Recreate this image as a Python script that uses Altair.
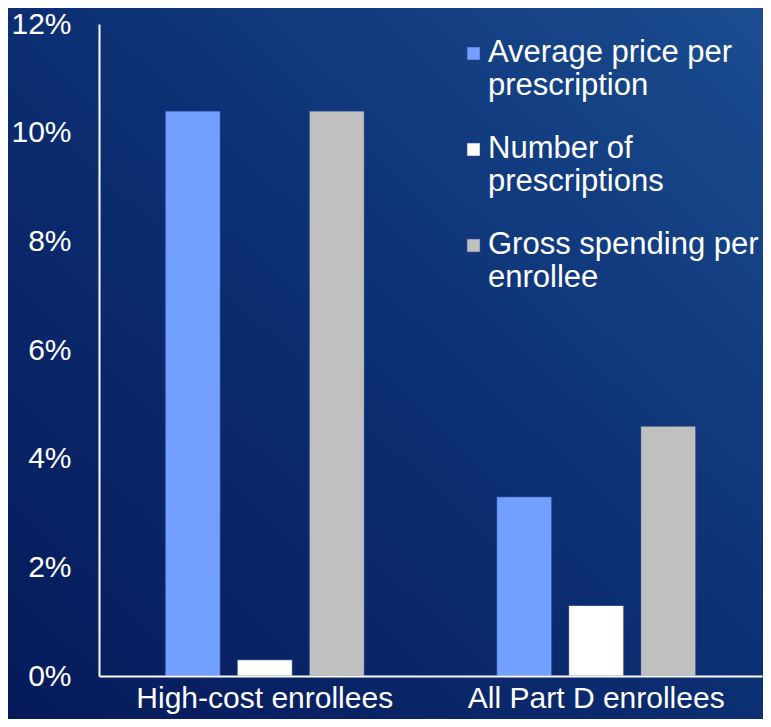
import altair as alt
import pandas as pd

groups = ["High-cost enrollees", "All Part D enrollees"]
series = ["Average price per prescription", "Number of prescriptions", "Gross spending per enrollee"]
legend_lines = [["Average price per", "prescription"], ["Number of", "prescriptions"], ["Gross spending per", "enrollee"]]
avg_price = [0.104, 0.033]
num_rx = [0.003, 0.013]
gross = [0.104, 0.046]
colors = ["#739FFF", "#FFFFFF", "#C0C0C0"]
y_ticks = [0, 0.02, 0.04, 0.06, 0.08, 0.10, 0.12]

rows = []
for i, g in enumerate(groups):
    for s, vals in zip(series, [avg_price, num_rx, gross]):
        rows.append({"group": g, "series": s, "value": vals[i]})
df = pd.DataFrame(rows)

label_expr = ""
for s, lines in zip(series, legend_lines):
    arr = "[" + ",".join("'" + l + "'" for l in lines) + "]"
    label_expr += f"datum.label == '{s}' ? {arr} : "
label_expr += "datum.label"

FONT = "Liberation Sans"
W, H = 663, 652
PAD = {"left": 91, "top": 16, "right": 1, "bottom": 43}

grad = alt.Gradient(
    gradient="linear",
    stops=[alt.GradientStop(color="#061a5a", offset=0),
           alt.GradientStop(color="#0c2e72", offset=0.5),
           alt.GradientStop(color="#1a4d90", offset=1)],
    x1=0, y1=1, x2=1, y2=0,
)

bg = alt.Chart(alt.Data(values=[{"a": 1}])).mark_rect(color=grad).encode(
    x=alt.value(-PAD["left"]), x2=alt.value(W + PAD["right"]),
    y=alt.value(-PAD["top"]), y2=alt.value(H + PAD["bottom"]),
)

bars = alt.Chart(df).mark_bar(stroke="#1c3c84", strokeWidth=1).encode(
    x=alt.X("group:N", sort=groups, scale=alt.Scale(paddingInner=0, paddingOuter=0),
            axis=alt.Axis(title=None, labelAngle=0, labelPadding=7, ticks=False, zindex=1,
                          domainColor="white", domainWidth=2, labelColor="white",
                          labelFontSize=30, labelFont=FONT, labelLimit=400)),
    xOffset=alt.XOffset("series:N", sort=series,
                        scale=alt.Scale(paddingInner=0.233, paddingOuter=0.918)),
    y=alt.Y("value:Q", scale=alt.Scale(domain=[0, 0.12], nice=False),
            axis=alt.Axis(title=None, format="%", values=y_ticks, ticks=False, grid=False, zindex=1,
                          domainColor="white", domainWidth=2, labelColor="white",
                          labelFontSize=30, labelFont=FONT, labelPadding=28)),
    color=alt.Color("series:N", sort=series,
                    scale=alt.Scale(domain=series, range=colors),
                    legend=alt.Legend(title=None, orient="none", legendX=350, legendY=22,
                                      symbolType="M0.29,-2.14H2.29V-0.14H0.29Z", symbolSize=196,
                                      symbolStrokeColor="#1c3c84", symbolStrokeWidth=1.5,
                                      labelExpr=label_expr, labelBaseline="alphabetic",
                                      labelColor="white", labelFontSize=31, labelFont=FONT,
                                      labelLimit=400, labelOffset=8, rowPadding=31, padding=0,
                                      zindex=1)),
)

chart = alt.layer(bg, bars).properties(
    width=W, height=H,
    autosize=alt.AutoSizeParams(type="none"),
    padding=PAD,
    background="#0b2a6c",
).configure_view(stroke=None)

chart.save("out.html", embed_options={"renderer": "svg", "actions": False})
